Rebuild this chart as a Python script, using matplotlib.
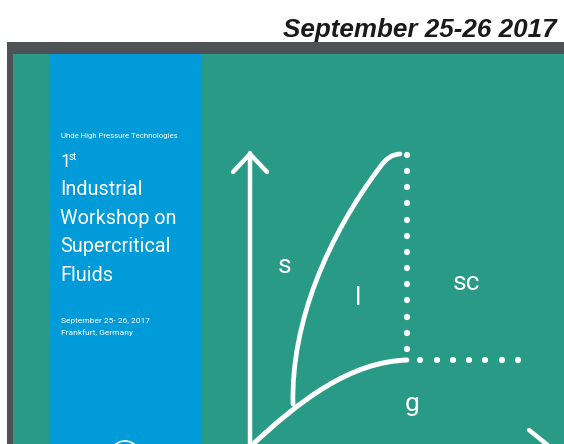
import matplotlib
matplotlib.use("Agg")
import matplotlib.pyplot as plt
from matplotlib.path import Path
from matplotlib.patches import PathPatch, Rectangle, Circle

# ---- content ----
header_text = "September 25-26 2017"
org_text = "Uhde High Pressure Technologies"
edition_num = "1"
edition_sup = "st"
title_lines = ["Industrial", "Workshop on", "Supercritical", "Fluids"]
info_lines = ["September 25- 26, 2017", "Frankfurt, Germany"]
phase_labels = ["s", "l", "sc", "g"]
phase_label_xy = [(285, 266), (358, 298), (466, 283), (412, 404)]

# curve control points (pixel space)
gas_curve = [(250, 447), (300, 400), (350, 362), (407, 360)]
melt_curve = [(293, 404), (291, 322), (328, 236), (380, 167), (389, 154), (400, 154)]
axis_x = 250
axis_top = 153
arrow_head = [(233, 172), (250, 154), (267, 172)]
dots_vertical_y = [155, 171, 187, 203, 220, 236, 252, 268, 284, 300, 317, 333, 349]
dots_vertical_x = 407
dots_horizontal_x = [420, 437, 453, 469, 485, 502, 518]
dots_horizontal_y = 360
diag_line = [(529, 430), (575, 467)]

GRAY = "#4e5254"
GREEN = "#289a86"
BLUE = "#009bd8"
WHITE = "white"

W, H = 564, 444
fig = plt.figure(figsize=(W / 100, H / 100), dpi=100)
fig.patch.set_facecolor("white")
ax = fig.add_axes([0, 0, 1, 1])
ax.set_xlim(0, W)
ax.set_ylim(H, 0)
ax.axis("off")

# panels
ax.add_patch(Rectangle((7, 42), W - 7, H - 42, facecolor=GRAY, edgecolor="none"))
ax.add_patch(Rectangle((13, 54), W - 13, H - 54, facecolor=GREEN, edgecolor="none"))
ax.add_patch(Rectangle((50, 54), 151, H - 54, facecolor=BLUE, edgecolor="none"))

# header
ax.text(557, 37, header_text, ha="right", va="baseline", fontsize=18.7,
        fontweight="bold", fontstyle="italic", family="Liberation Sans", color="#1a1a1a")

# blue panel text
tf = "Roboto"
ax.text(61, 136, org_text, ha="left", va="center", fontsize=5.6, color=WHITE, family=tf)
ax.text(60, 167, edition_num, ha="left", va="baseline", fontsize=13, color=WHITE, family=tf)
ax.text(69, 160, edition_sup, ha="left", va="baseline", fontsize=7, color=WHITE, family=tf)
for i, line in enumerate(title_lines):
    ax.text(60, 195 + i * 28.5, line, ha="left", va="baseline", fontsize=14.3,
            color=WHITE, family=tf)
for i, line in enumerate(info_lines):
    ax.text(61, 323 + i * 11.5, line, ha="left", va="baseline", fontsize=6.0,
            color=WHITE, family=tf)

# circle logo at bottom
ax.add_patch(Circle((125, 456), 15, facecolor="none", edgecolor=WHITE, lw=1.2))

# axis
lw = 3.2
ax.plot([axis_x, axis_x], [H + 5, axis_top], color=WHITE, lw=lw, solid_capstyle="round")
ax.plot([p[0] for p in arrow_head], [p[1] for p in arrow_head], color=WHITE, lw=lw,
        solid_capstyle="round", solid_joinstyle="round")

# curves
gp = Path(gas_curve, [Path.MOVETO, Path.CURVE4, Path.CURVE4, Path.CURVE4])
ax.add_patch(PathPatch(gp, facecolor="none", edgecolor=WHITE, lw=3.6, capstyle="round"))
mp = Path(melt_curve, [Path.MOVETO, Path.CURVE4, Path.CURVE4, Path.CURVE4,
                       Path.CURVE3, Path.CURVE3])
ax.add_patch(PathPatch(mp, facecolor="none", edgecolor=WHITE, lw=3.4, capstyle="round"))

# dotted lines
ax.scatter([dots_vertical_x] * len(dots_vertical_y), dots_vertical_y, s=20, color=WHITE,
           edgecolors="none", zorder=5)
ax.scatter(dots_horizontal_x, [dots_horizontal_y] * len(dots_horizontal_x), s=20,
           color=WHITE, edgecolors="none", zorder=5)

# diagonal line at lower right
ax.plot([p[0] for p in diag_line], [p[1] for p in diag_line], color=WHITE, lw=lw,
        solid_capstyle="round")

# phase labels
for lab, (x, y) in zip(phase_labels, phase_label_xy):
    ax.text(x, y, lab, ha="center", va="center", fontsize=19, color=WHITE, family=tf)

fig.savefig("out.png", dpi=100)
